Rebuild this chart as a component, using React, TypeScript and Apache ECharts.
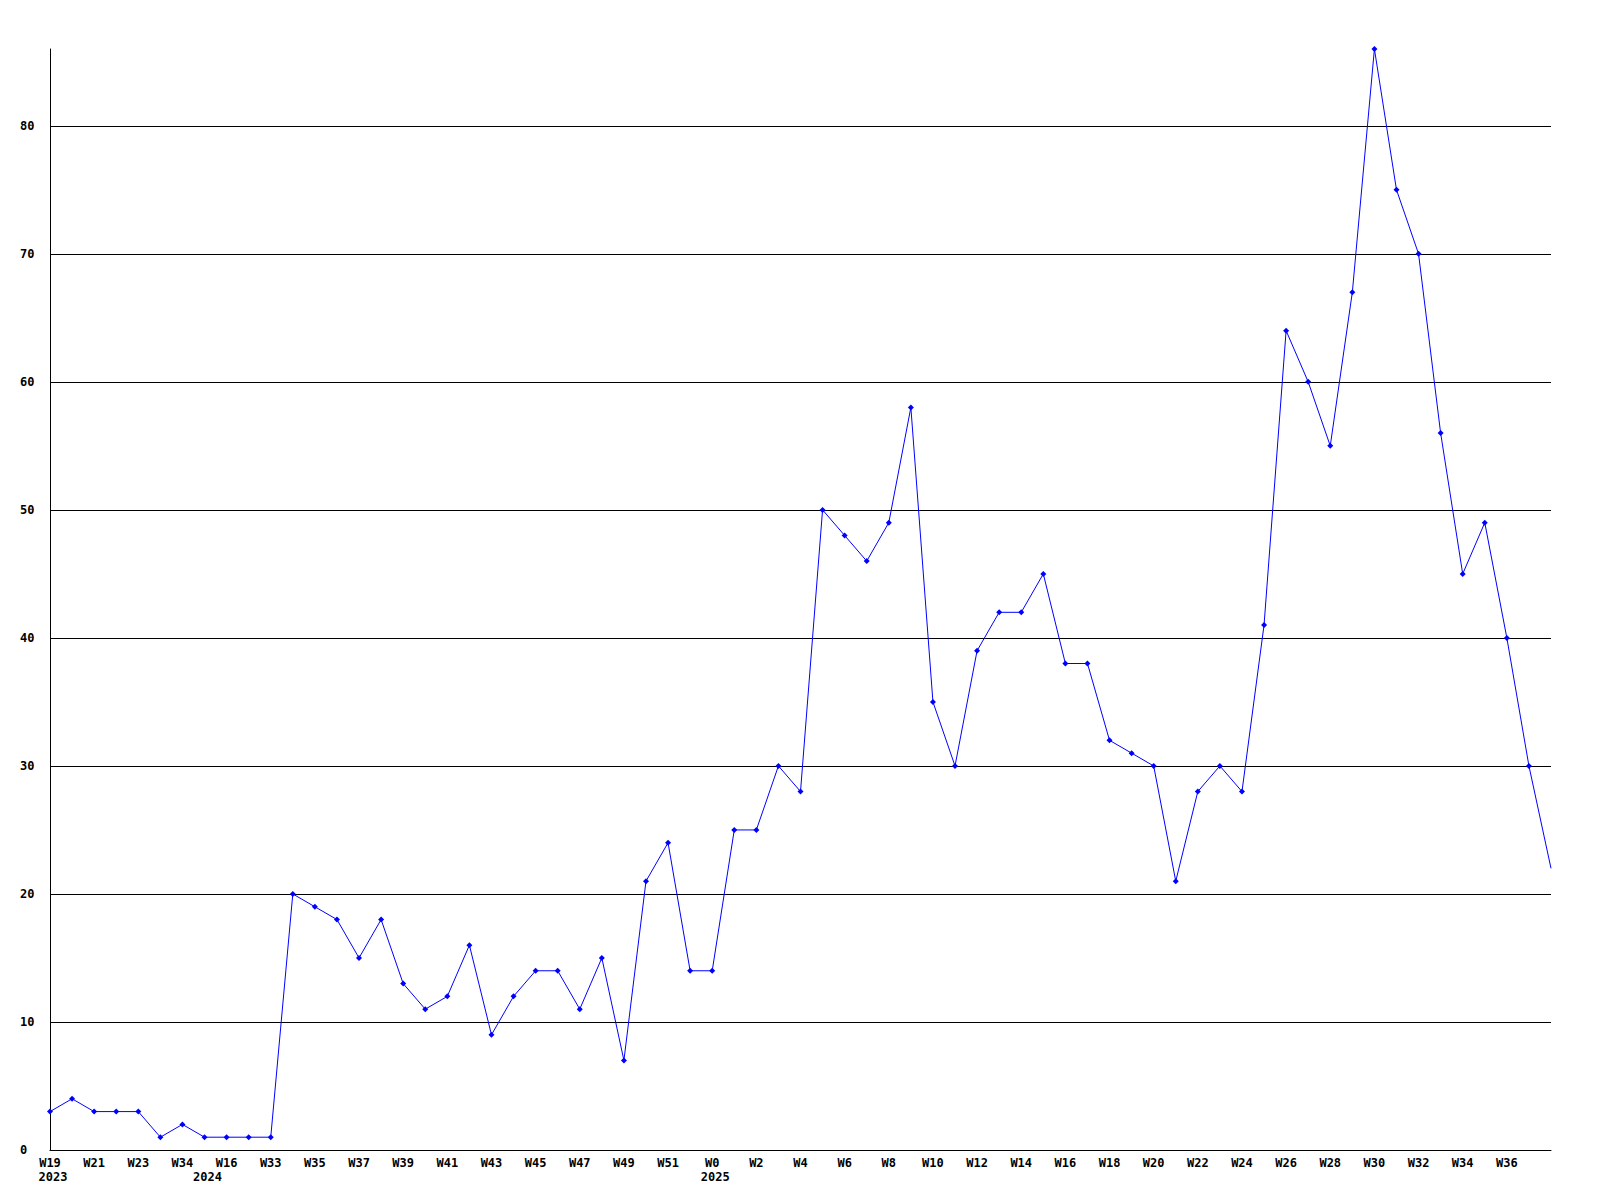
import React, { useEffect, useRef } from "react";
import * as echarts from "echarts";

const weeks = [
  "W19", "W20", "W21", "W22", "W23", "W24", "W34", "W14", "W16", "W17",
  "W33", "W34", "W35", "W36", "W37", "W38", "W39", "W40", "W41", "W42",
  "W43", "W44", "W45", "W46", "W47", "W48", "W49", "W50", "W51", "W52",
  "W0", "W1", "W2", "W3", "W4", "W5", "W6", "W7", "W8", "W9",
  "W10", "W11", "W12", "W13", "W14", "W15", "W16", "W17", "W18", "W19",
  "W20", "W21", "W22", "W23", "W24", "W25", "W26", "W27", "W28", "W29",
  "W30", "W31", "W32", "W33", "W34", "W35", "W36", "W37", "W38",
];

const yearMarks: string[] = weeks.map(() => "");
yearMarks[0] = "2023";
yearMarks[7] = "2024";
yearMarks[30] = "2025";

const values = [
  3, 4, 3, 3, 3, 1, 2, 1, 1, 1,
  1, 20, 19, 18, 15, 18, 13, 11, 12, 16,
  9, 12, 14, 14, 11, 15, 7, 21, 24, 14,
  14, 25, 25, 30, 28, 50, 48, 46, 49, 58,
  35, 30, 39, 42, 42, 45, 38, 38, 32, 31,
  30, 21, 28, 30, 28, 41, 64, 60, 55, 67,
  86, 75, 70, 56, 45, 49, 40, 30, 22,
];

const categoryKeys = weeks.map((w, i) => `${i}-${w}`);

const FONT = "DejaVu Sans Mono";

export default function App() {
  const ref = useRef<HTMLDivElement>(null);
  useEffect(() => {
    document.body.style.margin = "0";
    const chart = echarts.init(ref.current!, null, { renderer: "svg" });
    const last = values.length - 1;
    const seriesData = values.map((v, i) =>
      i === last ? { value: v, symbol: "none" } : v
    );
    chart.setOption({
      animation: false,
      backgroundColor: "#ffffff",
      grid: { left: 50, right: 49, top: 49, bottom: 50, containLabel: false },
      xAxis: [
        {
          type: "category",
          data: categoryKeys,
          boundaryGap: false,
          axisLine: { show: true, lineStyle: { color: "#000", width: 1 } },
          axisTick: { show: false },
          splitLine: { show: false },
          axisLabel: {
            interval: (i: number) => i % 2 === 0 && i < last,
            margin: 7,
            color: "#000",
            fontFamily: FONT,
            fontWeight: "bold",
            fontSize: 12,
            formatter: (_v: string, i: number) => weeks[i],
          },
        },
        {
          type: "category",
          data: categoryKeys,
          boundaryGap: false,
          position: "bottom",
          axisLine: { show: false },
          axisTick: { show: false },
          splitLine: { show: false },
          axisLabel: {
            interval: (i: number) => yearMarks[i] !== "",
            margin: 21,
            color: "#000",
            fontFamily: FONT,
            fontWeight: "bold",
            fontSize: 12,
            padding: [0, 0, 0, 6],
            formatter: (_v: string, i: number) => yearMarks[i],
          },
        },
      ],
      yAxis: {
        type: "value",
        min: 0,
        max: 86,
        interval: 10,
        axisLine: { show: true, lineStyle: { color: "#000", width: 1 } },
        axisTick: { show: false },
        splitLine: {
          show: true,
          showMaxLine: false,
          lineStyle: { color: "#000", width: 1 },
        },
        axisLabel: {
          showMaxLabel: false,
          align: "left",
          margin: 30,
          color: "#000",
          fontFamily: FONT,
          fontWeight: "bold",
          fontSize: 12,
        },
      },
      series: [
        {
          type: "line",
          xAxisIndex: 0,
          data: seriesData,
          symbol: "diamond",
          symbolSize: 6,
          showAllSymbol: true,
          itemStyle: { color: "#0000ff" },
          lineStyle: { color: "#0000ff", width: 1 },
        },
      ],
    });
    return () => chart.dispose();
  }, []);
  return <div ref={ref} style={{ width: 1600, height: 1200 }} />;
}
